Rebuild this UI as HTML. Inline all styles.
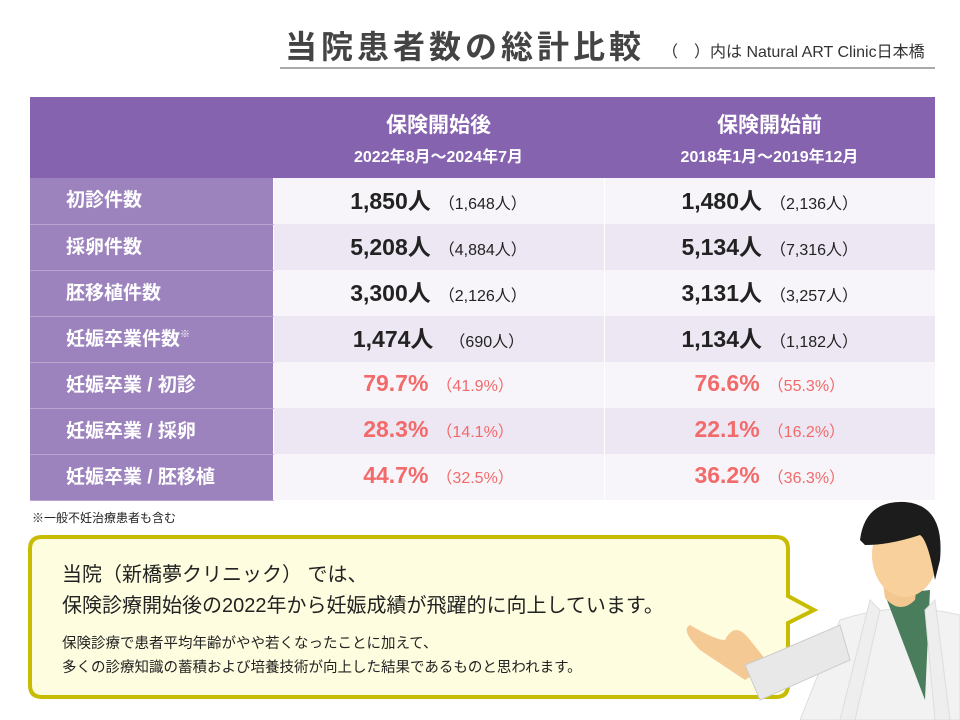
<!DOCTYPE html>
<html><head><meta charset="utf-8"><style>
body{margin:0;width:960px;height:720px;background:#fff;position:relative;overflow:hidden;font-family:"Liberation Sans","Noto Sans CJK JP",sans-serif;color:#222}
.a{position:absolute}
.title{left:285px;top:22px;font-size:32px;font-weight:bold;color:#444;letter-spacing:4px;white-space:nowrap}
.sub{left:662px;top:38px;font-size:16px;color:#333;white-space:nowrap}
.rule{left:280px;top:67px;width:655px;height:2px;background:#aaa}
table{position:absolute;left:30px;top:97px;border-collapse:collapse;width:905px;table-layout:fixed}
td{padding:0;height:46px;text-align:center;white-space:nowrap;box-sizing:border-box}
.h td{height:81px;background:#8663ae;color:#fff;font-weight:bold}
.h .t{font-size:21px;display:block;margin-top:0px}
.h .s{font-size:16px;display:block;margin-top:4px}
td.l{width:243px;background:#9d83be;color:#fff;font-weight:bold;font-size:19px;text-align:left;padding-left:36px;padding-bottom:4px;border-bottom:1px solid #b9a7d0}
tr.o td.c{background:#f7f5fa}tr.e td.c{background:#ede7f3}
td.c{width:331px;font-size:23px;font-weight:bold;border-left:1px solid #fff;padding-bottom:4px}
td.c small{font-size:16px;font-weight:normal;margin-left:8px}
.r{color:#f26a6a}
.note{left:32px;top:509px;font-size:12px}
</style></head><body>
<div class="a title">当院患者数の総計比較</div>
<div class="a sub">（　）内は Natural ART Clinic日本橋</div>
<div class="a rule"></div>
<table>
<tr class="h"><td style="width:243px"></td><td style="width:331px"><span class="t">保険開始後</span><span class="s">2022年8月～2024年7月</span></td><td><span class="t">保険開始前</span><span class="s">2018年1月～2019年12月</span></td></tr>
<tr class="o"><td class="l">初診件数</td><td class="c">1,850人<small>（1,648人）</small></td><td class="c">1,480人<small>（2,136人）</small></td></tr>
<tr class="e"><td class="l">採卵件数</td><td class="c">5,208人<small>（4,884人）</small></td><td class="c">5,134人<small>（7,316人）</small></td></tr>
<tr class="o"><td class="l">胚移植件数</td><td class="c">3,300人<small>（2,126人）</small></td><td class="c">3,131人<small>（3,257人）</small></td></tr>
<tr class="e"><td class="l">妊娠卒業件数<sup style="font-size:10px">※</sup></td><td class="c">1,474人<small>　（690人）</small></td><td class="c">1,134人<small>（1,182人）</small></td></tr>
<tr class="o"><td class="l">妊娠卒業 / 初診</td><td class="c r">79.7%<small>（41.9%）</small></td><td class="c r">76.6%<small>（55.3%）</small></td></tr>
<tr class="e"><td class="l">妊娠卒業 / 採卵</td><td class="c r">28.3%<small>（14.1%）</small></td><td class="c r">22.1%<small>（16.2%）</small></td></tr>
<tr class="o"><td class="l">妊娠卒業 / 胚移植</td><td class="c r">44.7%<small>（32.5%）</small></td><td class="c r">36.2%<small>（36.3%）</small></td></tr>
</table>
<div class="a note">※一般不妊治療患者も含む</div>
<svg class="a" style="left:0;top:0" width="960" height="720">
<path d="M42 537 H776 Q788 537 788 549 V596 L814 610 L788 623 V685 Q788 697 776 697 H42 Q30 697 30 685 V549 Q30 537 42 537 Z" fill="#fffde0" stroke="#c8bc00" stroke-width="4"/>
<path d="M840 620 Q900 600 960 615 V720 H800 Z" fill="#f2f2f2" stroke="#ddd"/>
<path d="M885 595 L930 590 L925 700 Z" fill="#4a7d5c"/>
<path d="M880 610 L855 720 H840 L870 600Z" fill="#eee" stroke="#ddd"/>
<path d="M935 600 L950 720 H935 L925 610Z" fill="#eee" stroke="#ddd"/>
<path d="M880 560 L920 560 L915 600 Q900 615 885 598Z" fill="#f4c690"/>
<ellipse cx="905" cy="555" rx="33" ry="42" fill="#f7d09c"/>
<path d="M860 540 Q865 500 905 502 Q945 505 940 560 L935 580 Q928 540 920 535 Q890 545 865 545 Z" fill="#1c1c1c"/>
<path d="M745 680 L700 650 Q680 630 690 625 Q715 640 725 640 Q735 620 750 640 L770 665 Z" fill="#f5c993"/>
<path d="M745 665 L770 655 L840 625 L850 660 L760 700 Z" fill="#e8e8e8" stroke="#ccc"/>
</svg>
<div class="a" style="left:62px;top:560px;font-size:20px;line-height:31px;white-space:nowrap">当院（新橋夢クリニック） では、<br>保険診療開始後の2022年から妊娠成績が飛躍的に向上しています。</div>
<div class="a" style="left:62px;top:632px;font-size:14.5px;line-height:24px;white-space:nowrap">保険診療で患者平均年齢がやや若くなったことに加えて、<br>多くの診療知識の蓄積および培養技術が向上した結果であるものと思われます。</div>
</body></html>
